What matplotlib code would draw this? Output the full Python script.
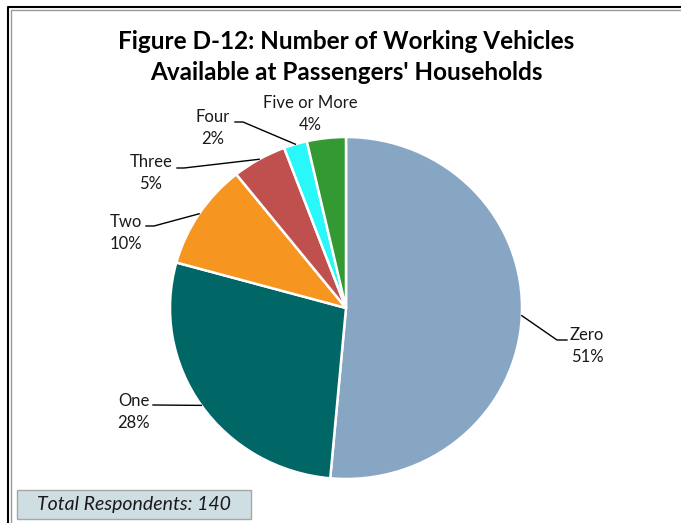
import numpy as np
import matplotlib.pyplot as plt
from matplotlib.lines import Line2D
from matplotlib.patches import Rectangle

categories = ['Zero', 'One', 'Two', 'Three', 'Four', 'Five or More']
respondents = [72, 39, 14, 7, 3, 5]
colors = ['#87A6C3', '#006666', '#F79521', '#C0504D', '#2AF7F7', '#339933']
total = sum(respondents)

W, H = 681, 523
fig = plt.figure(figsize=(W / 100, H / 100), dpi=100)
plt.rcParams['font.family'] = ['Lato', 'DejaVu Sans']

# pie axes: centre (346, 308) px, slightly wider than tall
cx, cy, rx, ry = 346, 308, 176, 171
ax = fig.add_axes([(cx - rx) / W, (H - cy - ry) / H, 2 * rx / W, 2 * ry / H])
wedges, _ = ax.pie(respondents, colors=colors, startangle=90, counterclock=False,
                   wedgeprops=dict(edgecolor='white', linewidth=1.8))
ax.set_xlim(-1, 1)
ax.set_ylim(-1, 1)
ax.set_aspect('auto')


def px(x, y):
    # pixel position -> pie data units
    return (x - cx) / rx, (cy - y) / ry


# label centre and leader path (text end, elbow) in pixels
label_pos = {
    'Zero': ((587, 346), [(567, 340), (557, 340)]),
    'One': ((134, 412), [(153, 405)]),
    'Two': ((126, 233), [(146, 226), (154, 226)]),
    'Three': ((151, 173), [(177, 168), (184, 168)]),
    'Four': ((213, 128), [(235, 122), (243, 122)]),
    'Five or More': ((310, 114), []),
}

for w, cat, n in zip(wedges, categories, respondents):
    pct = round(100 * n / total)
    (tx, ty), path = label_pos[cat]
    ax.text(*px(tx, ty), f'{cat}\n{pct}%', ha='center', va='center',
            fontsize=12, linespacing=1.5, color='#1a1a1a')
    if path:
        ang = np.deg2rad((w.theta1 + w.theta2) / 2)
        pts = [px(x, y) for x, y in path] + [(np.cos(ang), np.sin(ang))]
        xs, ys = zip(*pts)
        ax.plot(xs, ys, color='black', lw=1, clip_on=False)

fig.text(346 / W, 1 - 57 / H,
         "Figure D-12: Number of Working Vehicles\nAvailable at Passengers' Households",
         ha='center', va='center', fontsize=17.5, fontweight='bold', linespacing=1.45)

# respondents box
fig.add_artist(Rectangle((17 / W, 1 - 519 / H), 234 / W, 29 / H, transform=fig.transFigure,
                         facecolor='#CFDEE3', edgecolor='#A6A6A6', lw=1))
fig.text(134 / W, 1 - 504.5 / H, 'Total Respondents: 140', ha='center', va='center',
         fontsize=14, style='italic', color='#1a1a1a')

# page frame
fig.add_artist(Line2D([8 / W, 8 / W, 1], [0, 1 - 7 / H, 1 - 7 / H], color='black', lw=1.5,
                      transform=fig.transFigure))
fig.add_artist(Line2D([10.5 / W, 10.5 / W, 1], [0, 1 - 9.5 / H, 1 - 9.5 / H], color='#9a9a9a', lw=1,
                      transform=fig.transFigure))

fig.savefig('out.png', dpi=100)
